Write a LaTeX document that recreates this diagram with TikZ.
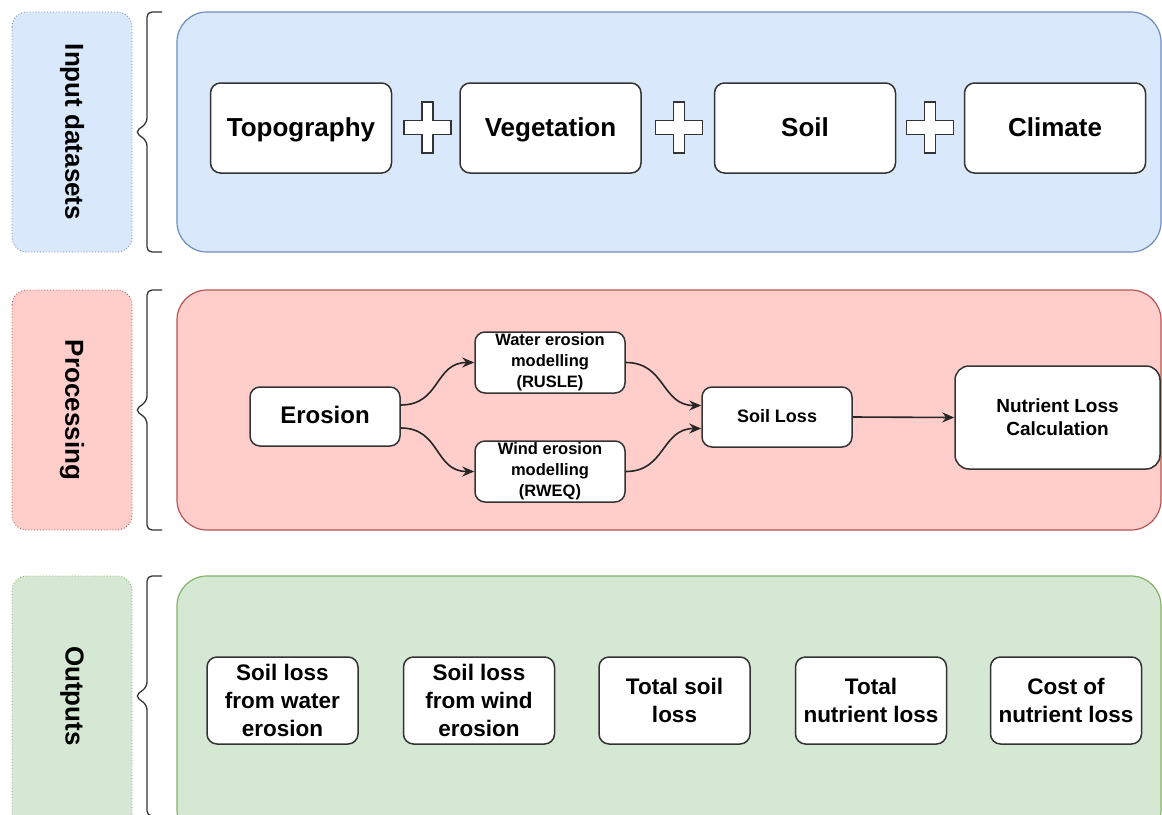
\documentclass[tikz,border=0pt]{standalone}
\usepackage{fontspec}
\setmainfont{Liberation Sans}
\usetikzlibrary{arrows.meta,calc}
\definecolor{bfill}{HTML}{DAE8FC}
\definecolor{bline}{HTML}{6C8EBF}
\definecolor{rfill}{HTML}{FFCECB}
\definecolor{rline}{HTML}{B85450}
\definecolor{gfill}{HTML}{D5E8D4}
\definecolor{gline}{HTML}{82B366}
\definecolor{ink}{HTML}{333333}
\tikzset{
  panel/.style={rounded corners=30pt, line width=1.2pt},
  labbox/.style={rounded corners=15pt, dotted, line width=0.9pt},
  labtext/.style={rotate=-90, font=\bfseries\fontsize{26}{30}\selectfont, text=black},
  box/.style={draw=ink, fill=white, rounded corners=10pt, line width=1.5pt, align=center, inner sep=0pt, text=black},
  bracestyle/.style={draw=ink, line width=1.3pt, rounded corners=5pt},
  arr/.style={draw=black!85, line width=1.6pt, -{Stealth[length=12pt,width=10pt]}},
  plussign/.pic={\draw[fill=white, draw=ink, line width=1.2pt]
    (-23.5,-7) -- (-5.5,-7) -- (-5.5,-25.5) -- (5.5,-25.5) -- (5.5,-7) -- (23.5,-7)
    -- (23.5,7) -- (5.5,7) -- (5.5,25.5) -- (-5.5,25.5) -- (-5.5,7) -- (-23.5,7) -- cycle;}
}
\newcommand{\mybrace}[3]{%
  \path[bracestyle] (162,#1) -- (147,#1) -- (147,#3-9) -- (135,#3) -- (147,#3+9) -- (147,#2) -- (162,#2);}
\begin{document}
\begin{tikzpicture}[x=1pt,y=-1pt]
\useasboundingbox (0,0) rectangle (1162,814);
\clip (0,0) rectangle (1162,814);
\fill[white] (0,0) rectangle (1162,814);

% left labels
\path[labbox, fill=bfill, draw=bline] (12,12) rectangle (132,252);
\node[labtext] (lin) at (72,132) {Input datasets};
\path[labbox, fill=rfill, draw=rline] (12,290) rectangle (132,530);
\node[labtext] (lpr) at (72,410) {Processing};
\path[labbox, fill=gfill, draw=gline] (12,576) rectangle (132,830);
\node[labtext] (lout) at (72,696) {Outputs};

% braces
\mybrace{12}{252}{132}
\mybrace{290}{530}{410}
\mybrace{576}{816}{696}

% panels
\path[panel, fill=bfill, draw=bline] (177,12) rectangle (1161,252);
\path[panel, fill=rfill, draw=rline] (177,290) rectangle (1161,530);
\path[panel, fill=gfill, draw=gline] (177,576) rectangle (1161,840);

% inputs
\begin{scope}[every node/.append style={box, text height=19pt, text depth=3pt, minimum width=181pt, minimum height=90pt, font=\bfseries\fontsize{26}{30}\selectfont}]
\node (topo) at (301,128) {Topography};
\node (veg) at (550.5,128) {Vegetation};
\node (soil) at (805,128) {Soil};
\node (clim) at (1055,128) {Climate};
\end{scope}
\pic at (427.5,127.5) {plussign};
\pic at (679,127.5) {plussign};
\pic at (930,127.5) {plussign};

% processing
\node[box, text height=17.5pt, text depth=3pt, minimum width=150pt, minimum height=59pt, font=\bfseries\fontsize{24}{28}\selectfont] (ero) at (325,416.5) {Erosion};
\node[box, minimum width=150pt, minimum height=61pt, font=\bfseries\fontsize{16.5}{21}\selectfont] (wat) at (550,362.5) {Water erosion\\modelling\\(RUSLE)};
\node[box, minimum width=150pt, minimum height=61pt, font=\bfseries\fontsize{16.5}{21}\selectfont] (wind) at (550,471.5) {Wind erosion\\modelling\\(RWEQ)};
\node[box, text height=13pt, text depth=2pt, minimum width=150pt, minimum height=60pt, font=\bfseries\fontsize{18}{22}\selectfont] (sl) at (777,417) {Soil Loss};
\node[box, minimum width=205pt, minimum height=103pt, rounded corners=14pt, font=\bfseries\fontsize{19}{23}\selectfont] (nut) at (1057.5,417.5) {Nutrient Loss\\Calculation};

\draw[arr] ([yshift=11.5pt]ero.east) .. controls +(40,0) and +(-40,0) .. (wat.west);
\draw[arr] ([yshift=-11.5pt]ero.east) .. controls +(40,0) and +(-40,0) .. (wind.west);
\draw[arr] (wat.east) .. controls +(40,0) and +(-40,0) .. ([yshift=11.5pt]sl.west);
\draw[arr] (wind.east) .. controls +(40,0) and +(-40,0) .. ([yshift=-11.5pt]sl.west);
\draw[arr] (sl.east) -- (nut.west);

% outputs
\begin{scope}[every node/.append style={box, minimum width=151pt, minimum height=87pt, font=\bfseries\fontsize{22.5}{28}\selectfont}]
\node (o1) at (282.5,700.5) {Soil loss\\from water\\erosion};
\node (o2) at (479,700.5) {Soil loss\\from wind\\erosion};
\node (o3) at (674.5,700.5) {Total soil\\loss};
\node (o4) at (871,700.5) {Total\\nutrient loss};
\node (o5) at (1066,700.5) {Cost of\\nutrient loss};
\end{scope}
\end{tikzpicture}
\end{document}
